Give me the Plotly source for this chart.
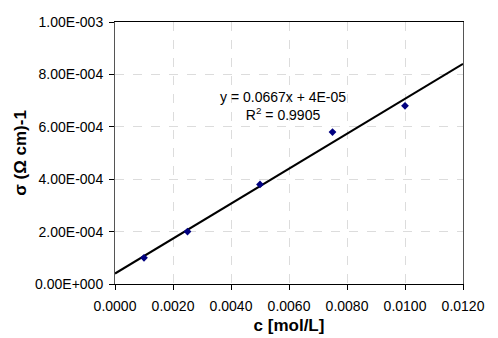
import plotly.graph_objects as go

c_vals = [0.001, 0.0025, 0.005, 0.0075, 0.010]
sigma_vals = [1.0e-4, 2.0e-4, 3.8e-4, 5.8e-4, 6.8e-4]
slope = 0.0667
intercept = 4e-05
fit_x = [0.0, 0.012]
x_ticks = [0.0, 0.002, 0.004, 0.006, 0.008, 0.010, 0.012]
x_tick_labels = ["0.0000", "0.0020", "0.0040", "0.0060", "0.0080", "0.0100", "0.0120"]
y_ticks = [0.0, 2e-4, 4e-4, 6e-4, 8e-4, 1e-3]
y_tick_labels = ["0.00E+000", "2.00E-004", "4.00E-004", "6.00E-004", "8.00E-004", "1.00E-003"]

fit_y = [slope * x + intercept for x in fit_x]

fig = go.Figure()
fig.add_trace(go.Scatter(x=fit_x, y=fit_y, mode="lines",
                         line=dict(color="black", width=2), showlegend=False))
fig.add_trace(go.Scatter(x=c_vals, y=sigma_vals, mode="markers",
                         marker=dict(symbol="diamond", size=6, color="#000080"),
                         showlegend=False))

font = dict(family="Liberation Sans, Arial, sans-serif", size=14, color="black")

# page body has an 8px default margin, so the figure is sized to fit within it
fig.update_layout(
    width=490, height=330,
    margin=dict(l=107, r=35, t=14, b=54),
    paper_bgcolor="white", plot_bgcolor="white",
    font=font,
    xaxis=dict(range=[0, 0.012], tickvals=x_ticks, ticktext=x_tick_labels,
               showgrid=True, gridcolor="#dcdcdc", griddash="dash", gridwidth=1,
               showline=True, linecolor="black", linewidth=1, mirror=True,
               ticks="outside", ticklen=5, tickcolor="black",
               ticklabelstandoff=4,
               zeroline=False, automargin=False,
               title=dict(text="<b>c [mol/L]</b>", standoff=6)),
    yaxis=dict(range=[0, 1e-3], tickvals=y_ticks, ticktext=y_tick_labels,
               showgrid=True, gridcolor="#dcdcdc", griddash="dash", gridwidth=1,
               showline=True, linecolor="#555555", linewidth=1, mirror=True,
               ticks="outside", ticklen=5, tickcolor="black",
               ticklabelstandoff=3,
               zeroline=False, automargin=False,
               title=dict(text="<b>σ (Ω cm)-1</b>", standoff=4)),
    annotations=[
        dict(x=0.00580, y=6.79e-4, xref="x", yref="y",
             text="y = 0.0667x + 4E-05<br>R<sup>2</sup> = 0.9905",
             showarrow=False, align="center", font=font),
    ],
)

fig.write_html("out.html")
